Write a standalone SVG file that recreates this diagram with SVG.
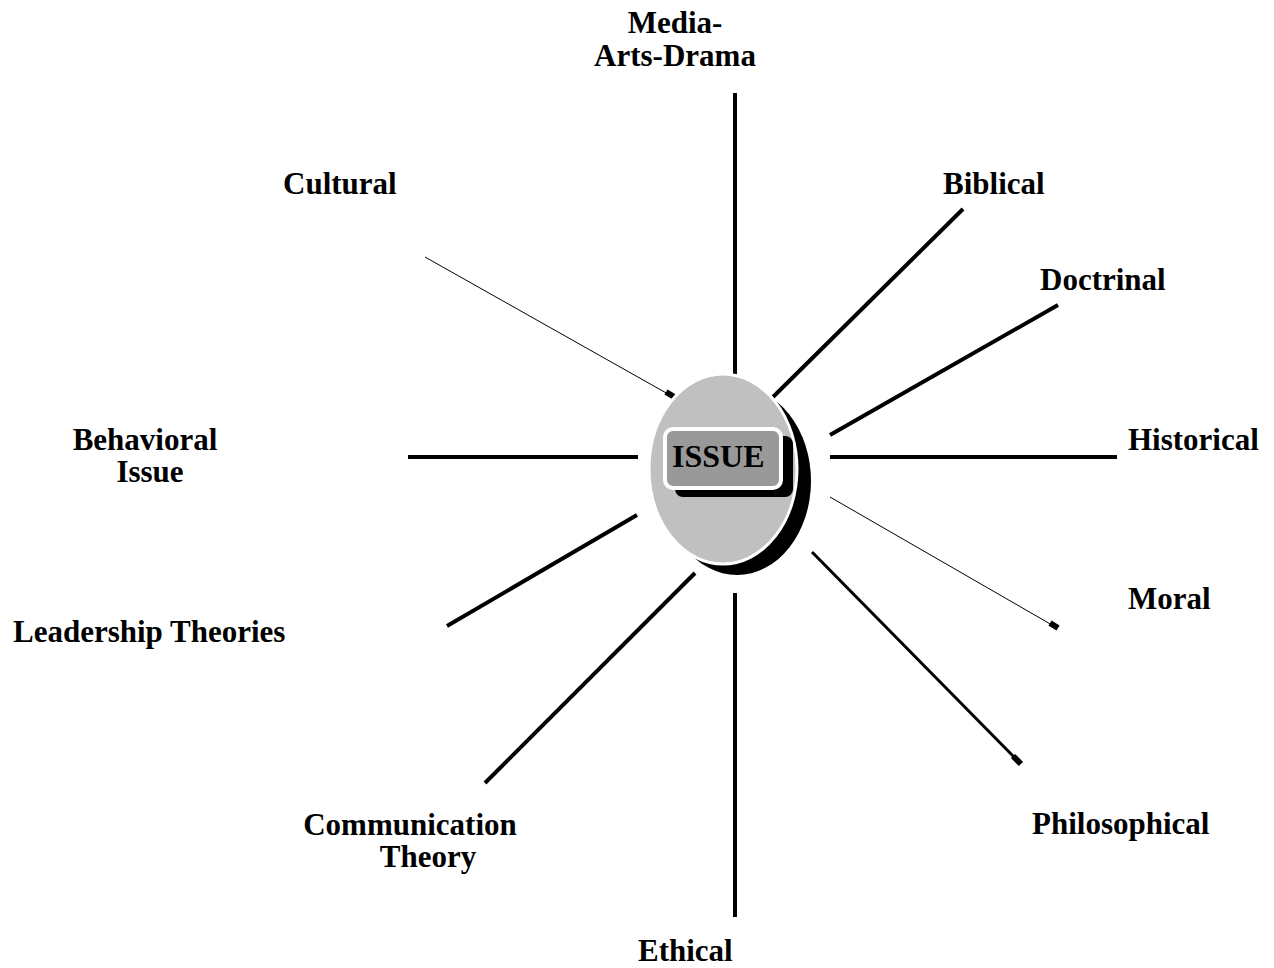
<svg xmlns="http://www.w3.org/2000/svg" width="1274" height="968" viewBox="0 0 1274 968">
<style>
.lbl{font-family:"Liberation Serif","Times New Roman",serif;font-weight:bold;font-size:31px;fill:#000}
.thick{stroke:#000;stroke-width:4;fill:none}
.thin{stroke:#000;stroke-width:1;fill:none}
.stub{stroke:#000;stroke-width:6;fill:none}
</style>
<rect width="1274" height="968" fill="#fff"/>
<g id="connectors">
<line class="thick" x1="735" y1="93" x2="735" y2="382"/>
<line class="thick" x1="963" y1="209" x2="773" y2="397"/>
<line class="thick" x1="1058" y1="305" x2="830" y2="435"/>
<line class="thick" x1="830" y1="457" x2="1117" y2="457"/>
<line class="thin" x1="830" y1="497" x2="1052" y2="625"/>
<line class="stub" x1="1050" y1="623" x2="1058" y2="628"/>
<line class="thick" x1="812" y1="552" x2="1016" y2="759" style="stroke-width:3"/>
<line class="stub" x1="1013" y1="756" x2="1021" y2="764"/>
<line class="thick" x1="735" y1="593" x2="735" y2="917"/>
<line class="thick" x1="695" y1="573" x2="485" y2="783"/>
<line class="thick" x1="637" y1="515" x2="447" y2="626"/>
<line class="thick" x1="408" y1="457" x2="638" y2="457"/>
<line class="thin" x1="425" y1="257" x2="668" y2="394"/>
<line class="stub" x1="666" y1="392" x2="676" y2="398"/>
</g>
<g id="issue">
<ellipse cx="737" cy="481" rx="74" ry="94" fill="#000"/>
<ellipse cx="723" cy="469" rx="74" ry="95" fill="#c0c0c0" stroke="#fff" stroke-width="3"/>
<line x1="762" y1="388" x2="770" y2="394" stroke="#fff" stroke-width="3"/>
<rect x="675" y="436" width="118" height="61" rx="8" fill="#000"/>
<rect x="665" y="429" width="116" height="59" rx="8" fill="#999" stroke="#fff" stroke-width="4"/>
<text class="lbl" x="672" y="467" style="font-size:32px">ISSUE</text>
</g>
<g id="media"><text class="lbl" x="675" y="33" text-anchor="middle">Media-</text><text class="lbl" x="675" y="66" text-anchor="middle">Arts-Drama</text></g>
<g id="cultural"><text class="lbl" x="283" y="194">Cultural</text></g>
<g id="biblical"><text class="lbl" x="943" y="194">Biblical</text></g>
<g id="doctrinal"><text class="lbl" x="1040" y="290">Doctrinal</text></g>
<g id="historical"><text class="lbl" x="1128" y="450">Historical</text></g>
<g id="moral"><text class="lbl" x="1128" y="609">Moral</text></g>
<g id="philosophical"><text class="lbl" x="1032" y="834">Philosophical</text></g>
<g id="ethical"><text class="lbl" x="638" y="961">Ethical</text></g>
<g id="communication"><text class="lbl" x="410" y="835" text-anchor="middle">Communication</text><text class="lbl" x="428" y="867" text-anchor="middle">Theory</text></g>
<g id="leadership"><text class="lbl" x="13" y="642">Leadership Theories</text></g>
<g id="behavioral"><text class="lbl" x="145" y="450" text-anchor="middle">Behavioral</text><text class="lbl" x="150" y="482" text-anchor="middle">Issue</text></g>
</svg>
